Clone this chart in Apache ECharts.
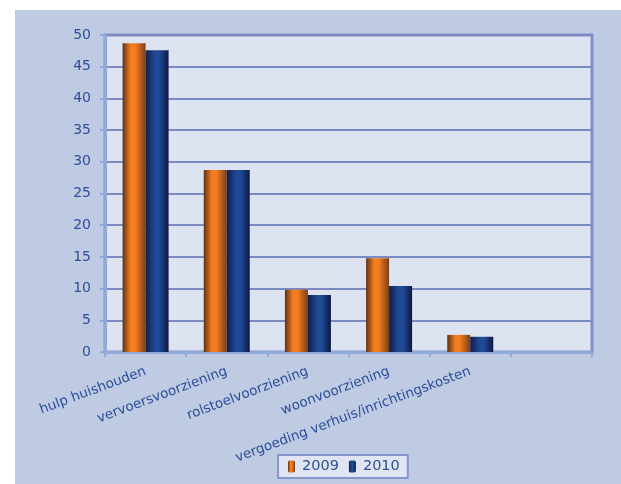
<!DOCTYPE html>
<html>
<head>
<meta charset="utf-8">
<script src="https://cdn.jsdelivr.net/npm/echarts@6/dist/echarts.min.js"></script>
<style>
html,body{margin:0;padding:0;background:#ffffff;}
#chart{width:621px;height:484px;}
</style>
</head>
<body>
<div id="chart"></div>
<script>
const categories = ['hulp huishouden', 'vervoersvoorziening', 'rolstoelvoorziening', 'woonvoorziening', 'vergoeding verhuis/inrichtingskosten', ''];
const values2009 = [48.7, 28.7, 9.8, 14.8, 2.7, null];
const values2010 = [47.6, 28.7, 9.0, 10.4, 2.4, null];
const seriesNames = ['2009', '2010'];

const textColor = '#2b4f9b';
const font = 'DejaVu Sans, Verdana, sans-serif';

function grad(stops) {
  return new echarts.graphic.LinearGradient(0, 0, 1, 0, stops.map((c) => ({offset: c[0], color: c[1]})));
}
const orange = grad([[0, '#5e3216'], [0.35, '#f47d20'], [0.55, '#f47d20'], [1, '#7a3f17']]);
const blue = grad([[0, '#141c45'], [0.4, '#1e4a97'], [0.6, '#1e4a97'], [1, '#0f1740']]);

const chart = echarts.init(document.getElementById('chart'), null, {renderer: 'canvas'});
chart.setOption({
  animation: false,
  graphic: [{
    type: 'rect', z: -10, silent: true,
    shape: {x: 15, y: 10, width: 606, height: 474},
    style: {fill: '#bfcae3'}
  }],
  grid: {
    left: 105, right: 29, top: 35, bottom: 132,
    show: true, backgroundColor: '#dde3f1', borderColor: '#7f92c8', borderWidth: 3
  },
  legend: {
    data: seriesNames,
    left: 278, top: 455,
    backgroundColor: '#dfe5f2', borderColor: '#8496cc', borderWidth: 2,
    padding: [4, 8, 4, 10],
    itemWidth: 7, itemHeight: 12, itemGap: 10,
    textStyle: {color: textColor, fontSize: 14.5, fontFamily: font, padding: [0, 0, 0, 2]}
  },
  xAxis: {
    type: 'category',
    data: categories,
    axisLine: {lineStyle: {color: '#8eaad6', width: 3}},
    axisTick: {show: true, length: 5, lineStyle: {color: '#8eaad6', width: 2}},
    axisLabel: {rotate: 20.5, color: textColor, fontSize: 13.5, fontFamily: font, margin: 19, interval: 0}
  },
  yAxis: {
    type: 'value', min: 0, max: 50, interval: 5,
    axisLine: {show: true, lineStyle: {color: '#8eaad6', width: 3}},
    axisTick: {show: true, length: 5, lineStyle: {color: '#8eaad6', width: 2}},
    axisLabel: {color: textColor, fontSize: 14, fontFamily: font, margin: 14},
    splitLine: {lineStyle: {color: '#7b8bc2', width: 2}}
  },
  series: [
    {name: seriesNames[0], type: 'bar', data: values2009, barWidth: 23, barGap: '0%', itemStyle: {color: orange}},
    {name: seriesNames[1], type: 'bar', data: values2010, barWidth: 23, barGap: '0%', itemStyle: {color: blue}}
  ]
});
</script>
</body>
</html>
